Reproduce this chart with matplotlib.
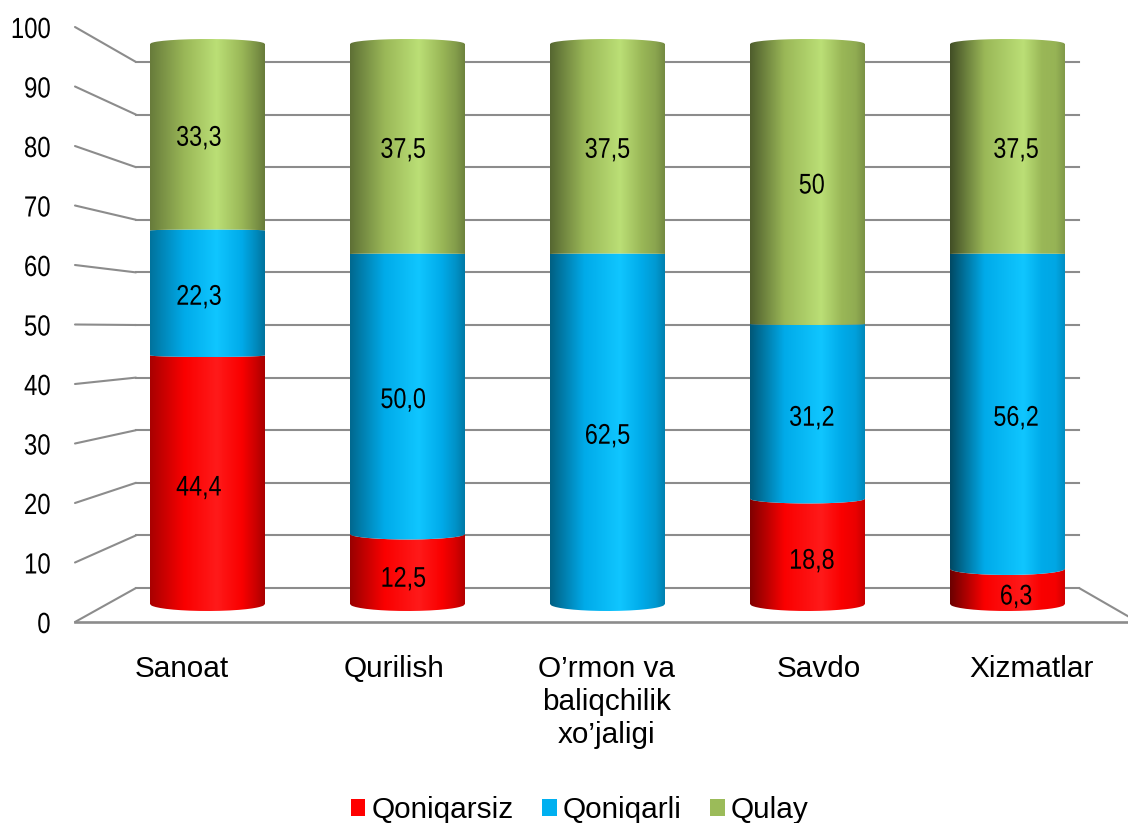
import numpy as np
import matplotlib
matplotlib.use("Agg")
import matplotlib.pyplot as plt
from matplotlib.patches import PathPatch, Patch, ConnectionPatch
from matplotlib.path import Path
from matplotlib.patheffects import AbstractPathEffect
from matplotlib.transforms import Affine2D

categories = ["Sanoat", "Qurilish", "O\u2019rmon va\nbaliqchilik\nxo\u2019jaligi", "Savdo", "Xizmatlar"]
qoniqarsiz = [44.4, 12.5, 0, 18.8, 6.3]
qoniqarli = [22.3, 50.0, 62.5, 31.2, 56.2]
qulay = [33.3, 37.5, 37.5, 50, 37.5]
qoniqarsiz_labels = ["44,4", "12,5", "", "18,8", "6,3"]
qoniqarli_labels = ["22,3", "50,0", "62,5", "31,2", "56,2"]
qulay_labels = ["33,3", "37,5", "37,5", "50", "37,5"]
series_names = ["Qoniqarsiz", "Qoniqarli", "Qulay"]
yticks = list(range(0, 101, 10))

W, H = 1128, 823
plt.rcParams["font.family"] = "Liberation Sans"

GRID = "#8c8c8c"
base = ["#ff0000", "#00aeee", "#9dbb59"]
high = ["#ff1a1a", "#10c6ff", "#bbdf76"]
legend_colors = ["#ff0000", "#00b0f0", "#9bbb59"]
left_shade = [0.66, 0.60, 0.55, 0.50, 0.42]
right_shade = [0.66, 0.70, 0.74, 0.78, 0.82]
high_pos = [0.58, 0.60, 0.61, 0.62, 0.64]


class Narrow(AbstractPathEffect):
    """Draw a text condensed horizontally, like Arial Narrow."""

    def __init__(self, sx=0.82, anchor="center"):
        super().__init__()
        self.sx, self.anchor = sx, anchor

    def draw_path(self, renderer, gc, tpath, affine, rgbFace=None):
        ext = affine.transform_path(tpath).get_extents()
        cx = ext.x1 if self.anchor == "right" else (ext.x0 + ext.x1) / 2
        squeeze = Affine2D().translate(-cx, 0).scale(self.sx, 1).translate(cx, 0)
        renderer.draw_path(gc, tpath, affine + squeeze, rgbFace)


fig = plt.figure(figsize=(W / 100, H / 100), dpi=100)


def box(l, r, t, b):
    return [l / W, 1 - b / H, (r - l) / W, (b - t) / H]


back = fig.add_axes(box(136, 1079, 62, 588), zorder=1)
front = fig.add_axes(box(75, 1138, 27, 622), zorder=2)
cyl = fig.add_axes(box(0, W, 0, H), zorder=3)

# back wall
back.set_xlim(0, 1)
back.set_ylim(0, 100)
back.set_yticks(yticks)
back.set_xticks([])
back.tick_params(left=False, labelleft=False)
back.grid(axis="y", color=GRID, lw=1.5)
for s in back.spines.values():
    s.set_visible(False)
for ln in back.get_ygridlines():
    ln.set_clip_on(False)
back.patch.set_visible(False)

# front axis
step = 212.4
front.set_xlim((75 - 182) / step, (1138 - 182) / step)
front.set_ylim(0, 100)
front.patch.set_visible(False)
for k in ("top", "right", "left"):
    front.spines[k].set_visible(False)
front.spines["bottom"].set_color(GRID)
front.spines["bottom"].set_linewidth(1.9)
front.set_yticks(yticks)
front.tick_params(axis="y", length=0, pad=17.5, labelsize=21)
for t in front.get_yticklabels():
    t.set_path_effects([Narrow(0.82, "right")])
front.set_xticks(range(len(categories)))
front.set_xticklabels(categories, linespacing=1.23)
front.tick_params(axis="x", length=0, pad=23.5, labelsize=21.4, labelcolor="black")

for v in yticks:
    front.add_artist(ConnectionPatch(xyA=(0, v), coordsA=front.get_yaxis_transform(),
                                     xyB=(0, v), coordsB=back.get_yaxis_transform(),
                                     color=GRID, lw=1.5, clip_on=False))
front.add_artist(ConnectionPatch(xyA=(1, 0), coordsA=front.get_yaxis_transform(),
                                 xyB=(1, 0), coordsB=back.get_yaxis_transform(),
                                 color=GRID, lw=1.5, clip_on=False))

# cylinders
px_per_unit = 5.6
cyl_step = 200.0
half = 57.5 / cyl_step
xlim_c = (-207.5 / cyl_step, (W - 207.5) / cyl_step)
ylim_c = ((604 - H) / px_per_unit, 604 / px_per_unit)
cyl.patch.set_visible(False)
cyl.axis("off")
cyl.set_xlim(*xlim_c)
cyl.set_ylim(*ylim_c)


def sag(v):
    return (7 - 12 * v / 100) / px_per_unit


def rgb(c):
    return np.array(matplotlib.colors.to_rgb(c))


def gradient(idx, i):
    b, h = rgb(base[idx]), rgb(high[idx])
    stops = [0, 0.30, high_pos[i], 0.80, 0.92, 1]
    cols = [b * left_shade[i], b * 0.98, h, b * 0.98,
            b * (right_shade[i] + 0.14), b * right_shade[i]]
    xs = np.linspace(0, 1, 230)
    return np.stack([np.interp(xs, stops, [c[k] for c in cols]) for k in range(3)], axis=1)[None, :, :]


def segment(i, v0, v1, idx):
    t = np.linspace(-1, 1, 80)
    arc = np.sqrt(1 - t ** 2)
    xs = i + half * t
    low = v0 - sag(v0) * arc
    up = v1 - sag(v1) * arc
    verts = np.r_[np.c_[xs, low], np.c_[xs[::-1], up[::-1]], [[xs[0], low[0]]]]
    im = cyl.imshow(gradient(idx, i), extent=[i - half, i + half, low.min() - 1, up.max() + 1],
                    aspect="auto", interpolation="bilinear", origin="lower", zorder=2)
    im.set_clip_path(PathPatch(Path(verts), transform=cyl.transData))


for i in range(len(categories)):
    bottom = 0
    for idx, (vals, labs) in enumerate(zip((qoniqarsiz, qoniqarli, qulay),
                                           (qoniqarsiz_labels, qoniqarli_labels, qulay_labels))):
        v = vals[i]
        if v > 0:
            segment(i, bottom, bottom + v, idx)
            ymid = bottom + v / 2 - (sag(bottom) + sag(bottom + v)) / 2
            cyl.annotate(labs[i], (i, ymid), xytext=((i - 2) * 4.3, -1.5), textcoords="offset pixels",
                         ha="center", va="center_baseline", fontsize=20.5, color="black", zorder=5,
                         path_effects=[Narrow(0.82)])
        bottom += v
cyl.set_xlim(*xlim_c)
cyl.set_ylim(*ylim_c)

# legend
handles = [Patch(facecolor=c, edgecolor="none", label=n) for c, n in zip(legend_colors, series_names)]
fig.legend(handles=handles, ncol=3, loc="lower center", bbox_to_anchor=(579.5 / W, -1 / H), frameon=False,
           fontsize=21.4, handlelength=0.5, handleheight=0.5, handletextpad=0.2, columnspacing=0.95,
           borderpad=0, borderaxespad=0)

fig.savefig("out.png", dpi=100)
